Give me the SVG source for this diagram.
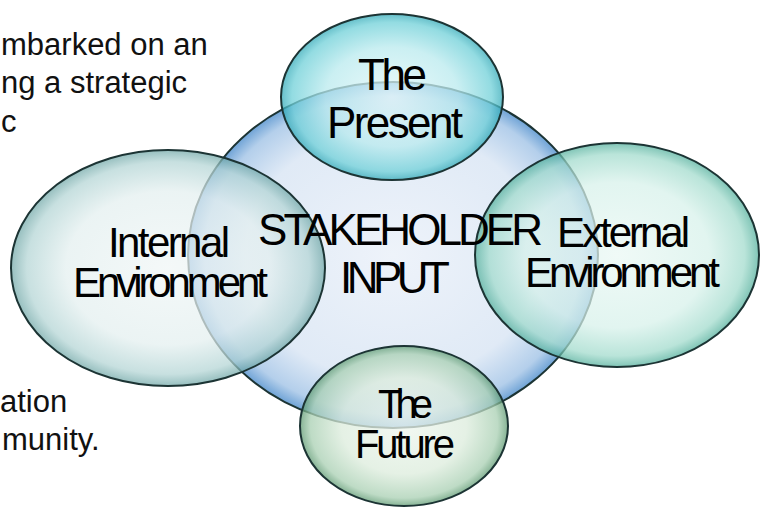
<svg xmlns="http://www.w3.org/2000/svg" width="762" height="510" viewBox="0 0 762 510">
<style>
.body{font-family:"Liberation Sans",Arial,sans-serif;font-size:31px;fill:#111}
.lbl{font-family:"Liberation Sans",Arial,sans-serif;fill:#000}
.bub{stroke:#1c3434;stroke-width:2}
</style>
<defs>
<radialGradient id="gBlue" cx="50%" cy="50%" r="50%">
<stop offset="0" stop-color="#eef3fa"/>
<stop offset="0.72" stop-color="#e0eaf6"/>
<stop offset="0.92" stop-color="#b4cfeb"/>
<stop offset="1" stop-color="#6fa3d6"/>
</radialGradient>
<radialGradient id="gCyan" cx="50%" cy="50%" r="50%">
<stop offset="0" stop-color="#e6f8f9"/>
<stop offset="0.6" stop-color="#b9eaee"/>
<stop offset="0.9" stop-color="#6fd0d8"/>
<stop offset="1" stop-color="#33aab8"/>
</radialGradient>
<radialGradient id="gInt" cx="50%" cy="50%" r="50%">
<stop offset="0" stop-color="#f0f6f6"/>
<stop offset="0.65" stop-color="#e3efef"/>
<stop offset="0.9" stop-color="#b2d4d4"/>
<stop offset="1" stop-color="#6ea6a6"/>
</radialGradient>
<radialGradient id="gExt" cx="50%" cy="50%" r="50%">
<stop offset="0" stop-color="#eaf8f4"/>
<stop offset="0.65" stop-color="#d6f1ea"/>
<stop offset="0.9" stop-color="#9fdacb"/>
<stop offset="1" stop-color="#4fae9a"/>
</radialGradient>
<radialGradient id="gFut" cx="50%" cy="50%" r="50%">
<stop offset="0" stop-color="#eef6ee"/>
<stop offset="0.6" stop-color="#dcecdc"/>
<stop offset="0.9" stop-color="#a8cfb2"/>
<stop offset="1" stop-color="#5e9a72"/>
</radialGradient>
</defs>
<rect width="762" height="510" fill="#ffffff"/>
<g id="body-text">
<text class="body" x="1" y="55">mbarked on an</text>
<text class="body" x="1" y="93">ng a strategic</text>
<text class="body" x="1" y="132">c</text>
<text class="body" x="0" y="412">ation</text>
<text class="body" x="2" y="450">munity.</text>
</g>
<g id="connectors"></g>
<g id="stakeholder">
<ellipse class="bub" cx="393" cy="255" rx="205" ry="173" fill="url(#gBlue)"/>
</g>
<g id="internal">
<ellipse class="bub" cx="168" cy="268" rx="157" ry="118" fill="url(#gInt)" fill-opacity="0.72"/>
</g>
<g id="external">
<ellipse class="bub" cx="617" cy="255" rx="142" ry="112" fill="url(#gExt)" fill-opacity="0.72"/>
</g>
<g id="present">
<ellipse class="bub" cx="392" cy="97" rx="111" ry="83" fill="url(#gCyan)" fill-opacity="0.75"/>
</g>
<g id="future">
<ellipse class="bub" cx="404" cy="426" rx="104" ry="80" fill="url(#gFut)" fill-opacity="0.75"/>
</g>
<g id="labels">
<text class="lbl" x="358" y="90" font-size="44" textLength="69" lengthAdjust="spacing">The</text>
<text class="lbl" x="327" y="138" font-size="44" textLength="136" lengthAdjust="spacing">Present</text>
<text class="lbl" x="258" y="245" font-size="44" textLength="285" lengthAdjust="spacing">STAKEHOLDER</text>
<text class="lbl" x="340" y="293" font-size="44" textLength="110" lengthAdjust="spacing">INPUT</text>
<text class="lbl" x="108" y="257" font-size="42" textLength="122" lengthAdjust="spacing">Internal</text>
<text class="lbl" x="73" y="297" font-size="42" textLength="195" lengthAdjust="spacing">Environment</text>
<text class="lbl" x="557" y="247" font-size="42" textLength="133" lengthAdjust="spacing">External</text>
<text class="lbl" x="525" y="287" font-size="42" textLength="195" lengthAdjust="spacing">Environment</text>
<text class="lbl" x="378" y="418" font-size="40" textLength="55" lengthAdjust="spacing">The</text>
<text class="lbl" x="355" y="458" font-size="40" textLength="100" lengthAdjust="spacing">Future</text>
</g>
</svg>
